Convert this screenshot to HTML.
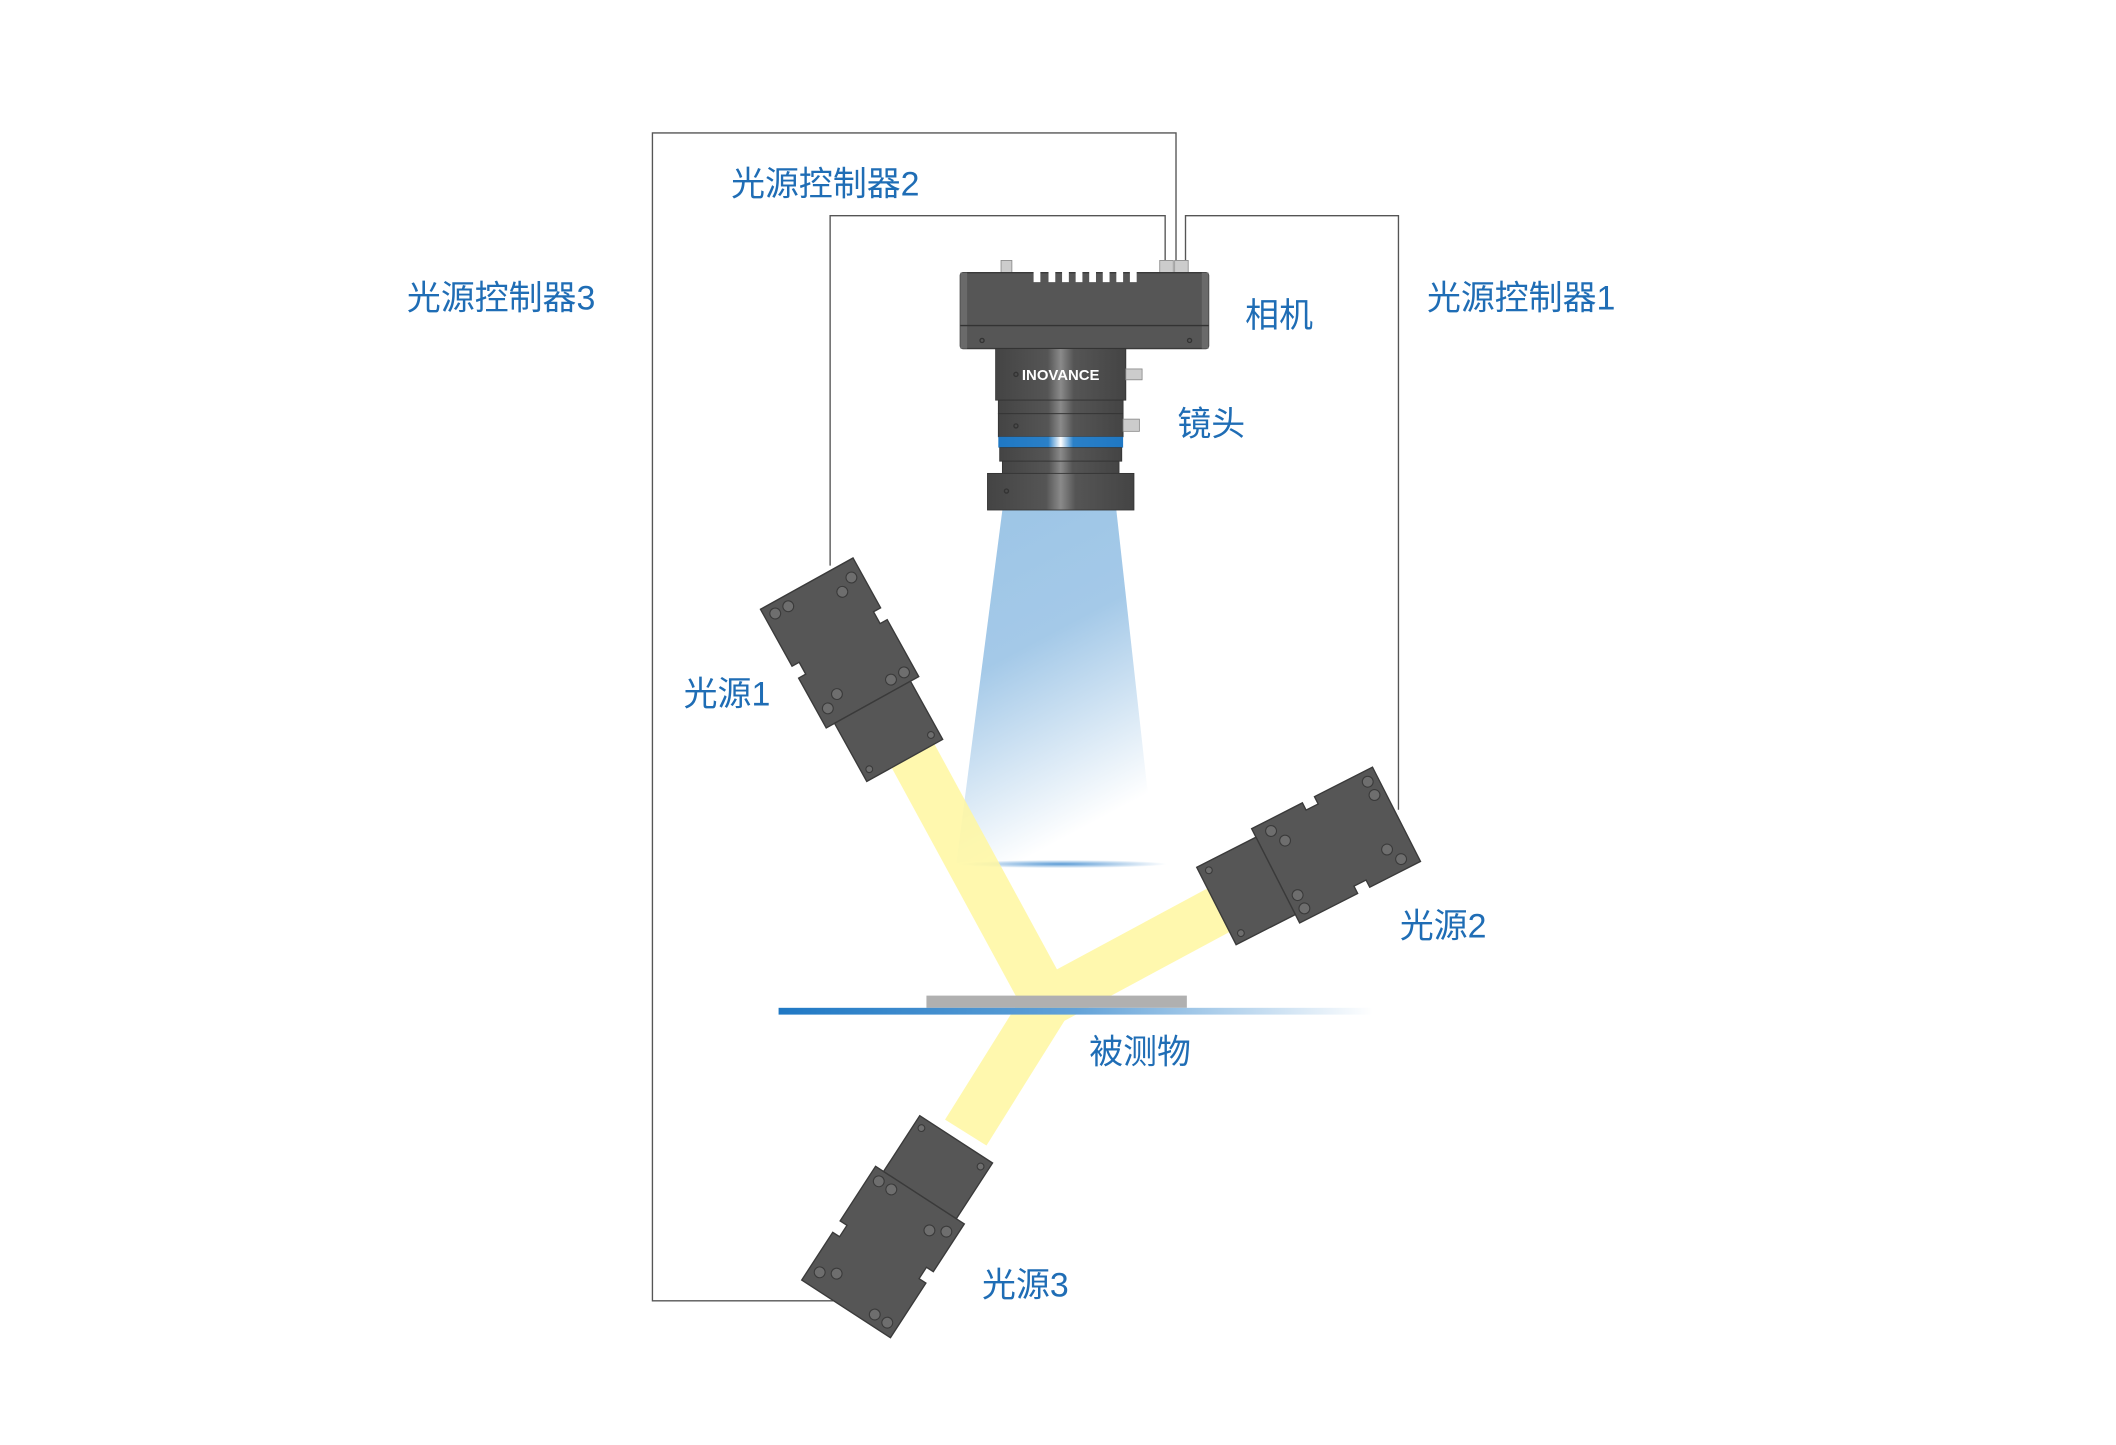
<!DOCTYPE html>
<html><head><meta charset="utf-8"><style>
html,body{margin:0;padding:0;background:#fff;}
svg{display:block;}
text{font-family:"Liberation Sans","Noto Sans CJK SC",sans-serif;fill:#1f6db5;font-size:25px;}
</style></head><body>
<svg width="2116" height="1445" viewBox="0 0 1560 1065.3" preserveAspectRatio="none" xmlns="http://www.w3.org/2000/svg">
<defs>
<linearGradient id="cone" x1="0" y1="0" x2="0.3" y2="1">
<stop offset="0" stop-color="#9cc5e6"/><stop offset="0.45" stop-color="#a4c9e8"/><stop offset="1" stop-color="#ffffff"/></linearGradient>
<linearGradient id="cyl" x1="0" y1="0" x2="1" y2="0">
<stop offset="0" stop-color="#444"/><stop offset="0.4" stop-color="#555"/><stop offset="0.5" stop-color="#8a8a8a"/><stop offset="0.6" stop-color="#555"/><stop offset="1" stop-color="#444"/></linearGradient>
<linearGradient id="ring" x1="0" y1="0" x2="1" y2="0">
<stop offset="0" stop-color="#1f78c4"/><stop offset="0.4" stop-color="#2a80c8"/><stop offset="0.5" stop-color="#ffffff"/><stop offset="0.6" stop-color="#2a80c8"/><stop offset="1" stop-color="#1f78c4"/></linearGradient>
<linearGradient id="base" x1="0" y1="0" x2="1" y2="0">
<stop offset="0" stop-color="#1f78c4"/><stop offset="0.5" stop-color="#62a2d8"/><stop offset="1" stop-color="#ffffff"/></linearGradient>
<radialGradient id="ell" cx="0.5" cy="0.5" r="0.5"><stop offset="0" stop-color="#5b9bd5"/><stop offset="1" stop-color="#ffffff"/></radialGradient>
<g id="lamp">
<path d="M-39,-50 H39 V-8 H33 V2 H39 V50 H-39 V8 H-33 V-2 H-39 Z" fill="#565656" stroke="#3a3a3a" stroke-width="1"/>
<rect x="-32" y="50" width="64" height="49" fill="#565656" stroke="#3a3a3a" stroke-width="1"/>
<g fill="#6e6e6e" stroke="#3a3a3a" stroke-width="0.8">
<circle cx="-31" cy="-42" r="4"/><circle cx="-20" cy="-42" r="4"/>
<circle cx="31" cy="-38" r="4"/><circle cx="20" cy="-32" r="4"/>
<circle cx="-31" cy="38" r="4"/><circle cx="-20" cy="32" r="4"/>
<circle cx="31" cy="42" r="4"/><circle cx="20" cy="42" r="4"/>
<circle cx="-26" cy="92" r="2.5"/><circle cx="26" cy="92" r="2.5"/>
</g>
</g>
</defs>
<g transform="translate(-3,-3)">
<g fill="none" stroke="#555" stroke-width="1">
<polyline points="620,962 484,962 484,101 870,101 870,197"/>
<polyline points="615,420 615,162 862,162 862,197"/>
<polyline points="1034,600 1034,162 877,162 877,197"/>
</g>
<polygon points="742,379 826,379 855,640 708,640" fill="url(#cone)"/>
<ellipse cx="785" cy="640" rx="78" ry="3" fill="url(#ell)"/>
<g stroke="#fff7a0" stroke-width="36" opacity="0.85" fill="none">
<line x1="676" y1="560" x2="775" y2="742"/>
<line x1="905" y1="672" x2="775" y2="742"/>
<line x1="715" y1="838" x2="775" y2="742"/>
</g>
<rect x="686" y="737" width="192" height="9" fill="#b0b0b0"/>
<rect x="577" y="746" width="438" height="5" fill="url(#base)"/>
<rect x="741" y="195" width="8" height="10" fill="#ccc" stroke="#888" stroke-width="0.6"/>
<rect x="858" y="195" width="10" height="10" fill="#ccc" stroke="#888" stroke-width="0.6"/>
<rect x="869" y="195" width="10" height="10" fill="#ccc" stroke="#888" stroke-width="0.6"/>
<rect x="711" y="204" width="183" height="56" rx="2" fill="#565656" stroke="#3a3a3a"/>
<rect x="711" y="204" width="5" height="56" fill="#6a6a6a"/>
<rect x="889" y="204" width="5" height="56" fill="#6a6a6a"/>
<line x1="711" y1="243" x2="894" y2="243" stroke="#333"/>
<g fill="#fff">
<rect x="765" y="203" width="5" height="8"/><rect x="776" y="203" width="5" height="8"/><rect x="786" y="203" width="5" height="8"/><rect x="796" y="203" width="5" height="8"/><rect x="806" y="203" width="5" height="8"/><rect x="816" y="203" width="5" height="8"/><rect x="826" y="203" width="5" height="8"/><rect x="836" y="203" width="5" height="8"/>
</g>
<circle cx="727" cy="254" r="1.5" fill="none" stroke="#333"/><circle cx="880" cy="254" r="1.5" fill="none" stroke="#333"/>
<rect x="737" y="260" width="96" height="38" fill="url(#cyl)" stroke="#333" stroke-width="0.6"/>
<text x="785" y="283" text-anchor="middle" style="font-size:11px;fill:#fff;font-weight:bold">INOVANCE</text>
<circle cx="752" cy="279" r="1.5" fill="none" stroke="#333"/>
<rect x="833" y="275" width="12" height="8" fill="#ccc" stroke="#888" stroke-width="0.6"/>
<rect x="739" y="298" width="92" height="10" fill="url(#cyl)" stroke="#333" stroke-width="0.6"/>
<rect x="739" y="308" width="92" height="17" fill="url(#cyl)" stroke="#333" stroke-width="0.6"/>
<circle cx="752" cy="317" r="1.5" fill="none" stroke="#333"/>
<rect x="831" y="312" width="12" height="9" fill="#ccc" stroke="#888" stroke-width="0.6"/>
<rect x="739" y="325" width="92" height="8" fill="url(#ring)"/>
<rect x="740" y="333" width="90" height="10" fill="url(#cyl)" stroke="#333" stroke-width="0.6"/>
<rect x="742" y="343" width="86" height="9" fill="url(#cyl)" stroke="#333" stroke-width="0.6"/>
<rect x="731" y="352" width="108" height="27" fill="url(#cyl)" stroke="#333" stroke-width="0.6"/>
<circle cx="745" cy="365" r="1.5" fill="none" stroke="#333"/>
<use href="#lamp" transform="translate(622,477) rotate(-29)"/>
<use href="#lamp" transform="translate(988,626) rotate(63)"/>
<use href="#lamp" transform="translate(654,926) rotate(-147)"/>
<text x="303" y="231">光源控制器3</text>
<text x="542" y="147">光源控制器2</text>
<text x="1055" y="231">光源控制器1</text>
<text x="921" y="244">相机</text>
<text x="871" y="324">镜头</text>
<text x="507" y="523">光源1</text>
<text x="1035" y="694">光源2</text>
<text x="806" y="787">被测物</text>
<text x="727" y="959">光源3</text>
</g>
</svg>
</body></html>
